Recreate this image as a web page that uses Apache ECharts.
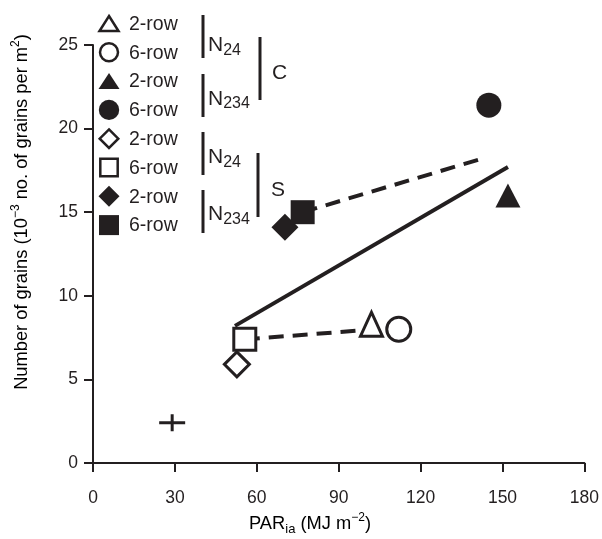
<!DOCTYPE html>
<html><head><meta charset="utf-8">
<script src="https://cdn.jsdelivr.net/npm/echarts@6/dist/echarts.min.js"></script>
<style>html,body{margin:0;padding:0;background:#fff}#c{width:602px;height:539px}</style>
</head><body><div id="c"></div>
<script>
// ---- data ----
const xTicks = [0, 30, 60, 90, 120, 150, 180];
const yTicks = [0, 5, 10, 15, 20, 25];
// C / S groups, N24 / N234 nitrogen, 2-row / 6-row
const cN24Row2 = [[102, 8.3]];
const cN24Row6 = [[112, 8.0]];
const cN234Row2 = [[152, 16.0]];
const cN234Row6 = [[145, 21.4]];
const sN24Row2 = [[52.7, 5.9]];
const sN24Row6 = [[55.6, 7.4]];
const sN234Row2 = [[70.3, 14.1]];
const sN234Row6 = [[76.8, 15.0]];
const crossPoint = [[29, 2.4]];
// fitted lines (end points)
const solidFit = [[52, 8.2], [152, 17.7]];
const dashLowFit = [[55.6, 7.4], [112, 8.1]];
const dashHighFit = [[76.8, 15.0], [143.4, 18.25]];
// legend texts
const legendLabels = ['2-row', '6-row', '2-row', '6-row', '2-row', '6-row', '2-row', '6-row'];
const nitrogenLabels = ['24', '234', '24', '234'];
const groupLabels = ['C', 'S'];

const ink = '#231f20';
const FONT = '"Liberation Sans", Arial, Helvetica, sans-serif';
const chart = echarts.init(document.getElementById('c'), null, {renderer: 'canvas'});

const openStyle = {color: '#fff', borderColor: ink, borderWidth: 3, opacity: 1};
const fillStyle = {color: ink, borderWidth: 0, opacity: 1};
function sc(name, data, symbol, size, style, z) {
  return {type: 'scatter', name, data, symbol, symbolSize: size, itemStyle: style, z: z || 3, silent: true,
    emphasis: {disabled: true}};
}
function ln(data, dashed) {
  return {type: 'line', data, symbol: 'none', silent: true, z: 2, emphasis: {disabled: true},
    lineStyle: {color: ink, width: 4, opacity: 1, type: dashed ? [15, 9] : 'solid', cap: 'butt'}};
}

// ---- legend graphic ----
const g = [];
const rowY = i => 23.5 + i * 28.8;
const symX = 109;
function legSym(kind, open, cy) {
  const st = open ? {fill: '#fff', stroke: ink, lineWidth: 2.5} : {fill: ink};
  if (kind === 'tri') {
    const w = open ? 9.5 : 10.5, h = open ? 7.5 : 8;
    return {type: 'polygon', shape: {points: [[symX, cy - h], [symX + w, cy + h], [symX - w, cy + h]]}, style: st};
  }
  if (kind === 'cir') return {type: 'circle', shape: {cx: symX, cy, r: open ? 9 : 10.2}, style: st};
  if (kind === 'dia') {
    const r = open ? 9.3 : 10.5;
    return {type: 'polygon', shape: {points: [[symX, cy - r], [symX + r, cy], [symX, cy + r], [symX - r, cy]]}, style: st};
  }
  const s = open ? 8.7 : 10;
  return {type: 'rect', shape: {x: symX - s, y: cy - s, width: 2 * s, height: 2 * s}, style: st};
}
const legKinds = [['tri', 1], ['cir', 1], ['tri', 0], ['cir', 0], ['dia', 1], ['rect', 1], ['dia', 0], ['rect', 0]];
legKinds.forEach((k, i) => {
  g.push(legSym(k[0], !!k[1], rowY(i)));
  g.push({type: 'text', x: 129, y: rowY(i) + 1, style: {text: legendLabels[i], font: '19.5px ' + FONT, fill: ink, align: 'left', verticalAlign: 'middle'}});
});
function vbar(x, y1, y2) {
  g.push({type: 'line', shape: {x1: x, y1, x2: x, y2}, style: {stroke: ink, lineWidth: 3}});
}
vbar(203, 15, 58); vbar(203, 74, 117); vbar(260, 37, 100);
vbar(203, 132, 175); vbar(203, 190, 233); vbar(258, 153, 217);
const nY = [45.5, 99, 157.5, 214.5];
nY.forEach((y, i) => {
  g.push({type: 'text', x: 208, y, style: {text: '{n|N}{s|' + nitrogenLabels[i] + '}', align: 'left', verticalAlign: 'middle', fill: ink,
    rich: {n: {fontSize: 21, fontFamily: FONT, color: ink}, s: {fontSize: 16, fontFamily: FONT, color: ink, padding: [10, 0, 0, 0]}}}});
});
g.push({type: 'text', x: 272, y: 73, style: {text: groupLabels[0], font: '21px ' + FONT, fill: ink, align: 'left', verticalAlign: 'middle'}});
g.push({type: 'text', x: 271, y: 190, style: {text: groupLabels[1], font: '21px ' + FONT, fill: ink, align: 'left', verticalAlign: 'middle'}});
// axis titles
const tRich = {
  t: {fontSize: 18.3, fontFamily: FONT, color: ink},
  sup: {fontSize: 12, fontFamily: FONT, color: ink, padding: [0, 0, 12, 0]},
  sub: {fontSize: 13, fontFamily: FONT, color: ink, padding: [10, 0, 0, 0]}
};
g.push({type: 'text', x: 22, y: 212, rotation: Math.PI / 2,
  style: {text: '{t|Number of grains (10}{sup|\u22123}{t| no. of grains per m}{sup|2}{t|)}', align: 'center', verticalAlign: 'middle', rich: tRich}});
g.push({type: 'text', x: 310, y: 524,
  style: {text: '{t|PAR}{sub|ia}{t| (MJ m}{sup|\u22122}{t|)}', align: 'center', verticalAlign: 'middle', rich: tRich}});

const crossPath = 'path://M0,7 L26,7 L26,10 L0,10 Z M11.5,0 L14.5,0 L14.5,17 L11.5,17 Z';

chart.setOption({
  animation: false,
  backgroundColor: '#fff',
  grid: {left: 93, right: 16, top: 45, bottom: 76, containLabel: false},
  xAxis: {type: 'value', min: xTicks[0], max: xTicks[xTicks.length - 1], interval: xTicks[1] - xTicks[0],
    axisLine: {show: true, onZero: false, lineStyle: {color: ink, width: 2}},
    axisTick: {show: true, length: 9, inside: false, lineStyle: {color: ink, width: 2}},
    axisLabel: {color: ink, fontSize: 17.5, fontFamily: FONT, margin: 26},
    splitLine: {show: false}},
  yAxis: {type: 'value', min: yTicks[0], max: yTicks[yTicks.length - 1], interval: yTicks[1] - yTicks[0],
    axisLine: {show: true, onZero: false, lineStyle: {color: ink, width: 2}},
    axisTick: {show: true, length: 9, inside: false, lineStyle: {color: ink, width: 2}},
    axisLabel: {color: ink, fontSize: 17.5, fontFamily: FONT, margin: 15},
    splitLine: {show: false}},
  graphic: g,
  series: [
    ln(solidFit, false),
    ln(dashLowFit, true),
    ln(dashHighFit, true),
    sc('cross', crossPoint, crossPath, [26, 17], fillStyle),
    sc('S N24 2-row', sN24Row2, 'diamond', 25, openStyle, 3),
    sc('S N24 6-row', sN24Row6, 'rect', 22, openStyle, 4),
    sc('S N234 2-row', sN234Row2, 'diamond', 27, fillStyle, 3),
    sc('S N234 6-row', sN234Row6, 'rect', 24, fillStyle, 4),
    sc('C N24 2-row', cN24Row2, 'triangle', [22, 24], openStyle, 4),
    sc('C N24 6-row', cN24Row6, 'circle', 24, openStyle, 4),
    sc('C N234 2-row', cN234Row2, 'triangle', [25, 24], fillStyle, 4),
    sc('C N234 6-row', cN234Row6, 'circle', 25, fillStyle, 4)
  ]
});
</script></body></html>
